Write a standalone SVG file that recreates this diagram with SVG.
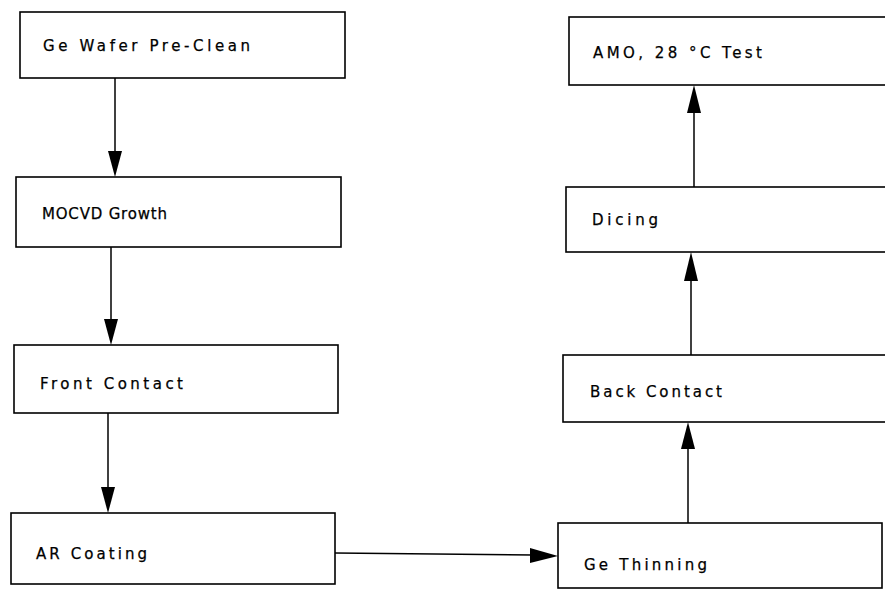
<svg xmlns="http://www.w3.org/2000/svg" width="885" height="591" viewBox="0 0 885 591">
<style>
.box{fill:#fff;stroke:#000;stroke-width:1.6}
.lbl{font-family:"DejaVu Sans","Liberation Sans",sans-serif;font-size:15px;fill:#000;stroke:#000;stroke-width:0.25}
.con line{stroke:#000;stroke-width:1.5}
.con path{fill:#000}
</style>
<rect width="885" height="591" fill="#fff"/>
<g id="pre-clean"><rect class="box" x="20" y="12" width="325" height="66"/><text class="lbl" x="43" y="51" textLength="207" lengthAdjust="spacing">Ge Wafer Pre-Clean</text></g>
<g id="mocvd"><rect class="box" x="16" y="177" width="325" height="70"/><text class="lbl" x="42" y="219" textLength="125" lengthAdjust="spacing">MOCVD Growth</text></g>
<g id="front-contact"><rect class="box" x="14" y="345" width="324" height="68"/><text class="lbl" x="40" y="389" textLength="143" lengthAdjust="spacing">Front Contact</text></g>
<g id="ar-coating"><rect class="box" x="11" y="513" width="324" height="71"/><text class="lbl" x="36" y="559" textLength="111" lengthAdjust="spacing">AR Coating</text></g>
<g id="ge-thinning"><rect class="box" x="558" y="523" width="324" height="65"/><text class="lbl" x="584" y="570" textLength="123" lengthAdjust="spacing">Ge Thinning</text></g>
<g id="back-contact"><rect class="box" x="563" y="355" width="330" height="67"/><text class="lbl" x="590" y="397" textLength="132" lengthAdjust="spacing">Back Contact</text></g>
<g id="dicing"><rect class="box" x="566" y="187" width="330" height="65"/><text class="lbl" x="592" y="225" textLength="66" lengthAdjust="spacing">Dicing</text></g>
<g id="test"><rect class="box" x="569" y="17" width="330" height="68"/><text class="lbl" x="593" y="58" textLength="169" lengthAdjust="spacing">AMO, 28 °C Test</text></g>
<g id="connectors" class="con">
<line x1="115" y1="78" x2="115" y2="155"/><path d="M108,151 L122,151 L115,177 Z"/>
<line x1="111" y1="247" x2="111" y2="322"/><path d="M104,319 L118,319 L111,345 Z"/>
<line x1="108" y1="413" x2="108" y2="490"/><path d="M101,487 L115,487 L108,513 Z"/>
<line x1="335" y1="553" x2="533" y2="555"/><path d="M530,548 L530,563 L558,556 Z"/>
<line x1="688" y1="523" x2="688" y2="446"/><path d="M681,449 L695,449 L688,422 Z"/>
<line x1="691" y1="355" x2="691" y2="278"/><path d="M684,281 L698,281 L691,252 Z"/>
<line x1="694" y1="187" x2="694" y2="110"/><path d="M687,113 L701,113 L694,85 Z"/>
</g>
</svg>
